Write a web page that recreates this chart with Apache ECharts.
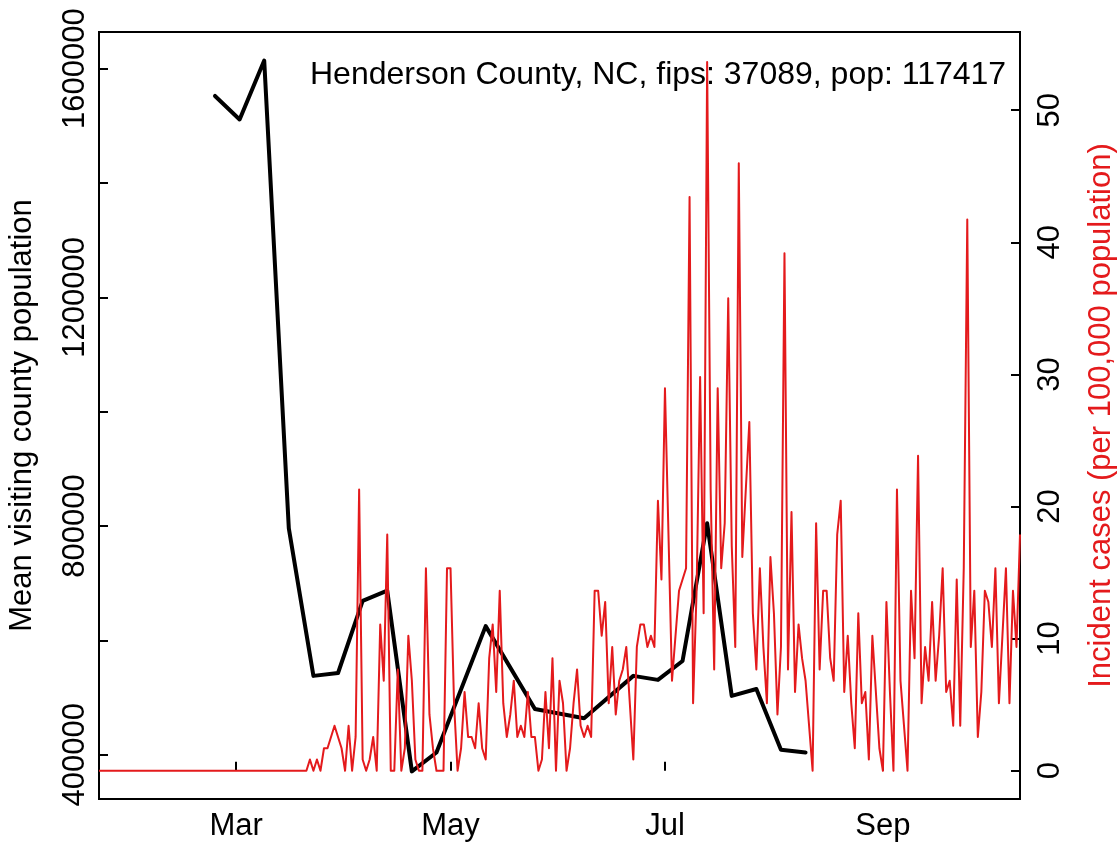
<!DOCTYPE html>
<html style="height: 100%">
<head>
<meta charset="utf-8">
</head>
<body style="height: 100%; margin: 0; background: #fff">
<div id="container" style="width: 1119px; height: 843px"></div>
<script src="https://cdn.jsdelivr.net/npm/echarts@6/dist/echarts.min.js"></script>
<script>
var titleText = 'Henderson County, NC, fips: 37089, pop: 117417';
var population = 117417;

// weekly mean visiting county population (black line)
var visitWeeks = ['2020-02-24', '2020-03-02', '2020-03-09', '2020-03-16', '2020-03-23',
    '2020-03-30', '2020-04-06', '2020-04-13', '2020-04-20', '2020-04-27', '2020-05-11',
    '2020-05-25', '2020-06-08', '2020-06-22', '2020-06-29', '2020-07-06', '2020-07-13',
    '2020-07-20', '2020-07-27', '2020-08-03', '2020-08-10'];
var visitMeans = [1552000, 1511000, 1614000, 796000, 538000,
    543000, 669000, 687000, 371000, 404000, 625000,
    480000, 464000, 538000, 531000, 564000, 805000,
    503000, 515000, 409000, 404000];

// daily new cases (counts), one value per day starting at caseStart
var caseStart = '2020-01-22';
var dailyCases = [
    0, 0, 0, 0, 0, 0, 0, 0, 0, 0, 0, 0, 0, 0, 0, 0, 0, 0, 0, 0,
    0, 0, 0, 0, 0, 0, 0, 0, 0, 0, 0, 0, 0, 0, 0, 0, 0, 0, 0, 0,
    0, 0, 0, 0, 0, 0, 0, 0, 0, 0, 0, 0, 0, 0, 0, 0, 0, 0, 0, 0,
    1, 0, 1, 0, 2, 2, 3, 4, 3, 2, 0, 4, 0, 3, 25, 1, 0, 1, 3, 0,
    13, 8, 21, 0, 0, 9, 0, 2, 12, 8, 1, 0, 0, 18, 5, 2, 0, 0, 0, 18,
    18, 6, 0, 2, 7, 3, 3, 2, 6, 2, 1, 10, 13, 7, 16, 6, 3, 5, 8, 3,
    4, 3, 7, 3, 3, 0, 1, 7, 2, 10, 0, 8, 6, 0, 2, 6, 9, 4, 3, 4,
    3, 16, 16, 12, 15, 6, 11, 5, 8, 9, 11, 6, 1, 11, 13, 13, 11, 12, 11, 24,
    17, 34, 21, 8, 12, 16, 17, 18, 51, 6, 16, 35, 14, 63, 25, 9, 34, 18, 22, 42,
    20, 11, 54, 19, 25, 31, 14, 9, 18, 11, 6, 19, 14, 5, 11, 46, 9, 23, 7, 13,
    10, 8, 4, 0, 22, 9, 16, 16, 10, 8, 21, 24, 7, 12, 6, 2, 14, 6, 7, 1,
    12, 7, 2, 0, 15, 7, 0, 25, 8, 4, 0, 16, 10, 28, 6, 11, 8, 15, 8, 12,
    18, 7, 8, 4, 17, 4, 18, 49, 11, 16, 3, 7, 16, 15, 11, 18, 6, 12, 18, 6,
    16, 11, 21
];

var axisStart = '2020-01-22';
var axisEnd = '2020-10-10';
var monthTicks = ['2020-03-01', '2020-05-01', '2020-07-01', '2020-09-01'];
var leftTicks = [400000, 600000, 800000, 1000000, 1200000, 1400000, 1600000];
var leftLabels = [400000, 800000, 1200000, 1600000];
var rightTicks = [0, 10, 20, 30, 40, 50];

var monthAbb = ['Jan', 'Feb', 'Mar', 'Apr', 'May', 'Jun', 'Jul', 'Aug', 'Sep', 'Oct', 'Nov', 'Dec'];

function toTime(s, addDays) {
    var p = s.split('-');
    return new Date(+p[0], +p[1] - 1, +p[2] + (addDays || 0)).getTime();
}

var visitData = visitWeeks.map(function (d, i) {
    return [toTime(d), visitMeans[i]];
});
// cases per 100,000 residents
var caseData = dailyCases.map(function (c, i) {
    return [toTime(caseStart, i), c / population * 100000];
});
var monthTickTimes = monthTicks.map(function (d) { return toTime(d); });

var font = 'Liberation Sans, Arial, Helvetica, sans-serif';
var red = '#E41A1C';

var dom = document.getElementById('container');
var myChart = echarts.init(dom);

var option = {
    animation: false,
    backgroundColor: '#fff',
    textStyle: { fontFamily: font },
    title: {
        text: titleText,
        left: 310,
        top: 59,
        padding: 0,
        textStyle: { fontFamily: font, fontSize: 32, fontWeight: 'normal', color: '#000' }
    },
    grid: {
        left: 99, right: 99, top: 32, bottom: 44,
        show: true,
        borderColor: '#000',
        borderWidth: 2,
        containLabel: false,
        outerBoundsMode: 'none'
    },
    xAxis: {
        type: 'value',
        min: toTime(axisStart),
        max: toTime(axisEnd),
        axisLine: { show: false },
        splitLine: { show: false },
        axisTick: {
            show: true,
            inside: true,
            length: 9,
            customValues: monthTickTimes,
            lineStyle: { color: '#000', width: 2 }
        },
        axisLabel: {
            customValues: monthTickTimes,
            formatter: function (v) { return monthAbb[new Date(v).getMonth()]; },
            fontSize: 31,
            fontFamily: font,
            color: '#000',
            margin: 12
        }
    },
    yAxis: [{
        type: 'value',
        position: 'left',
        min: 322700,
        max: 1663900,
        axisLine: { show: false },
        splitLine: { show: false },
        axisTick: {
            show: true,
            inside: true,
            length: 9,
            customValues: leftTicks,
            lineStyle: { color: '#000', width: 2 }
        },
        axisLabel: {
            customValues: leftLabels,
            formatter: function (v) { return String(v); },
            rotate: 90,
            fontSize: 31,
            fontFamily: font,
            color: '#000',
            margin: 8
        },
        name: 'Mean visiting county population',
        nameLocation: 'middle',
        nameRotate: 90,
        nameGap: 61,
        nameTextStyle: { fontSize: 31, fontFamily: font, color: '#000' }
    }, {
        type: 'value',
        position: 'right',
        min: -2.14,
        max: 55.92,
        axisLine: { show: false },
        splitLine: { show: false },
        axisTick: {
            show: true,
            inside: true,
            length: 9,
            customValues: rightTicks,
            lineStyle: { color: '#000', width: 2 }
        },
        axisLabel: {
            customValues: rightTicks,
            formatter: function (v) { return String(v); },
            rotate: 90,
            fontSize: 31,
            fontFamily: font,
            color: '#000',
            margin: 15
        },
        name: 'Incident cases (per 100,000 population)',
        nameLocation: 'middle',
        nameRotate: 90,
        nameGap: 66,
        nameTextStyle: { fontSize: 31, fontFamily: font, color: red }
    }],
    series: [{
        type: 'line',
        yAxisIndex: 0,
        data: visitData,
        showSymbol: false,
        lineStyle: { color: '#000', width: 4, cap: 'round', join: 'round' },
        z: 2
    }, {
        type: 'line',
        yAxisIndex: 1,
        data: caseData,
        showSymbol: false,
        lineStyle: { color: red, width: 2, join: 'round' },
        z: 3
    }]
};

myChart.setOption(option);
</script>
</body>
</html>
